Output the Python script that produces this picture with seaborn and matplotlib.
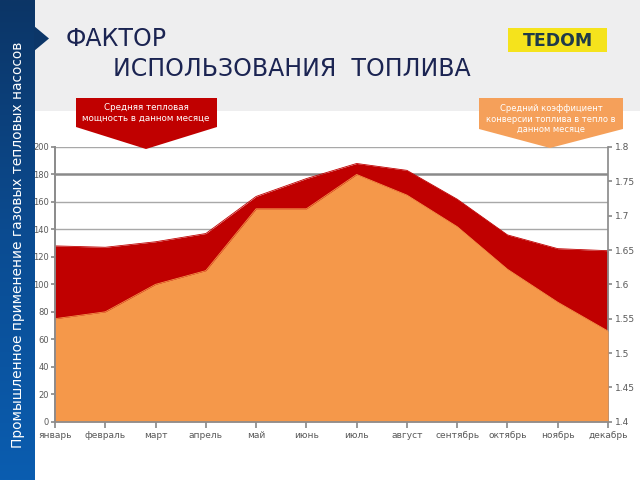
import numpy as np
import pandas as pd
import seaborn as sns
import matplotlib.pyplot as plt
from matplotlib.patches import Polygon, Rectangle
from matplotlib.colors import LinearSegmentedColormap

## data
months = ["январь", "февраль", "март", "апрель", "май", "июнь",
          "июль", "август", "сентябрь", "октябрь", "ноябрь", "декабрь"]
power = [75, 80, 100, 110, 155, 155, 180, 165, 142, 111, 87, 66]          # left axis
coef = [1.656, 1.654, 1.662, 1.674, 1.728, 1.754,
        1.776, 1.766, 1.724, 1.672, 1.652, 1.649]                         # right axis
left_ticks = [0, 20, 40, 60, 80, 100, 120, 140, 160, 180, 200]
right_ticks = [1.4, 1.45, 1.5, 1.55, 1.6, 1.65, 1.7, 1.75, 1.8]

df = pd.DataFrame({"idx": range(len(months)), "month": months,
                   "power": power, "coef": coef})

RED = "#c00000"
ORANGE = "#f5984a"
GRAY = "#8c8c8c"
TXT = "#595959"
NAVY = "#1b2452"

sns.set_theme(style="white")
plt.rcParams["font.family"] = ["DejaVu Sans"]

W, H = 640, 480
def fx(x):  # pixel -> figure fraction
    return x / W
def fy(y):
    return 1 - y / H

fig = plt.figure(figsize=(6.4, 4.8), dpi=100)
fig.patch.set_facecolor("white")

# grey header band
fig.patches.append(Rectangle((0, fy(111)), 1, 111 / H, transform=fig.transFigure,
                             color="#eeeeef", lw=0, zorder=-2))

# blue side bar with gradient
bar = fig.add_axes([0, 0, fx(35), 1])
bar.set_zorder(-1)
cmap = LinearSegmentedColormap.from_list("bar", ["#0c3566", "#0b4c92", "#0a5db0"])
bar.imshow(np.linspace(0, 1, 256).reshape(-1, 1), aspect="auto", cmap=cmap)
bar.set_axis_off()
fig.patches.append(Polygon([(fx(34), fy(26)), (fx(49), fy(38.5)), (fx(34), fy(51))],
                           closed=True, transform=fig.transFigure,
                           color="#0c3668", lw=0, zorder=1))
fig.text(fx(18), fy(245), "Промышленное применение газовых тепловых насосов",
         rotation=90, color="white", fontsize=9.9, ha="center", va="center")

# title
fig.text(fx(66), fy(39), "ФАКТОР", color=NAVY, fontsize=17, ha="left", va="center")
fig.text(fx(113), fy(69), "ИСПОЛЬЗОВАНИЯ  ТОПЛИВА", color=NAVY, fontsize=17,
         ha="left", va="center")

# TEDOM logo
fig.patches.append(Rectangle((fx(508), fy(52)), fx(99), 24 / H, transform=fig.transFigure,
                             color="#f5e31c", lw=0, zorder=1))
fig.text(fx(558), fy(40.5), "TEDOM", color="#1e3a4a", fontsize=12.5,
         fontweight="bold", ha="center", va="center")

# main chart: grid layer / red layer / orange layer
ax = fig.add_axes([fx(55), fy(421.7), fx(608 - 55), (421.7 - 147) / H])
ax2 = ax.twinx()
ax3 = ax.twinx()

ax.set_xlim(0, len(months) - 1)
ax.set_ylim(0, 200)
ax.set_yticks(left_ticks)
ax.set_xticks(df["idx"])
ax.set_xticklabels(months)
ax.grid(axis="y", color="#a8a8a8", lw=1)
for line, t in zip(ax.get_ygridlines(), left_ticks):
    if t == 180:
        line.set_linewidth(1.8)
        line.set_color("#8a8a8a")

ax2.fill_between(df["idx"], right_ticks[0], df["coef"], color=RED, lw=0)
sns.lineplot(data=df, x="idx", y="coef", ax=ax2, color=RED, lw=0.6)
ax2.set_ylim(1.4, 1.8)
ax2.set_yticks(right_ticks)
ax2.set_yticklabels([f"{v:g}" for v in right_ticks])

ax3.fill_between(df["idx"], 0, df["power"], color=ORANGE, lw=0)
sns.lineplot(data=df, x="idx", y="power", ax=ax3, color=ORANGE, lw=0.6)
ax3.set_ylim(0, 200)
ax3.set_yticks([])

for a in (ax, ax2, ax3):
    a.set_xlabel("")
    a.set_ylabel("")
    a.set_xlim(0, len(months) - 1)
    for s in a.spines.values():
        s.set_visible(False)

ax.spines["left"].set_visible(True)
ax.spines["left"].set_color(GRAY)
ax2.spines["right"].set_visible(True)
ax2.spines["right"].set_color(GRAY)
ax3.spines["bottom"].set_visible(True)
ax3.spines["bottom"].set_color(GRAY)
ax3.spines["left"].set_visible(True)
ax3.spines["left"].set_color(GRAY)

ax.tick_params(axis="y", direction="out", length=3, color=GRAY, labelsize=6,
               labelcolor=TXT, pad=1.5, left=True)
ax.tick_params(axis="x", direction="out", length=4, color=GRAY, labelsize=6.5,
               labelcolor=TXT, pad=3, bottom=True)
ax2.tick_params(axis="y", direction="out", length=3, color=GRAY, labelsize=6.5,
                labelcolor=TXT, pad=2, right=True)

# callouts
fig.patches.append(Polygon([(fx(76), fy(98)), (fx(217), fy(98)), (fx(217), fy(127)),
                            (fx(146), fy(149)), (fx(76), fy(127))],
                           closed=True, transform=fig.transFigure, color=RED, lw=0, zorder=1))
fig.text(fx(146), fy(113), "Средняя тепловая\nмощность в данном месяце", color="white",
         fontsize=6.3, ha="center", va="center", linespacing=1.25)

fig.patches.append(Polygon([(fx(479), fy(98)), (fx(623), fy(98)), (fx(623), fy(129)),
                            (fx(550), fy(148)), (fx(479), fy(129))],
                           closed=True, transform=fig.transFigure, color="#f5a05a", lw=0, zorder=1))
fig.text(fx(551), fy(119), "Средний коэффициент\nконверсии топлива в тепло в\nданном месяце",
         color="white", fontsize=6, ha="center", va="center", linespacing=1.25)

fig.savefig("out.png", dpi=100)
